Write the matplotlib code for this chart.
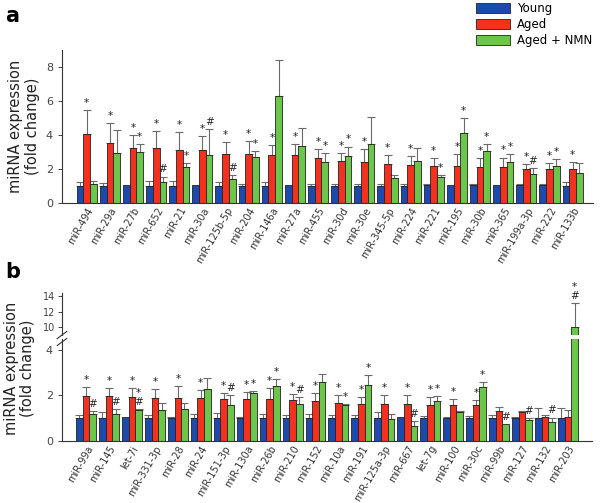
import numpy as np
import matplotlib
matplotlib.use("Agg")
import matplotlib.pyplot as plt
from matplotlib.patches import Patch
from matplotlib.lines import Line2D

# ===== data panel a =====
names_a = ["miR-494", "miR-29a", "miR-27b", "miR-652", "miR-21", "miR-30a", "miR-125b-5p",
           "miR-204", "miR-146a", "miR-27a", "miR-455", "miR-30d", "miR-30e", "miR-345-5p",
           "miR-224", "miR-221", "miR-195", "miR-30b", "miR-365", "miR-199a-3p", "miR-222", "miR-133b"]
young_a = [1.0, 1.0, 1.05, 1.0, 1.0, 1.05, 1.0, 1.0, 1.0, 1.05, 1.0, 1.0, 1.0, 1.0, 1.0,
           1.04, 1.02, 1.04, 1.04, 1.04, 1.04, 1.0]
young_a_top = [1.24, 1.14, 0, 1.3, 1.28, 0, 1.2, 1.1, 1.2, 0, 1.1, 1.1, 1.1, 1.1, 1.1,
               1.1, 0, 1.1, 0, 1.08, 1.08, 1.2]
aged_a = [4.06, 3.54, 3.25, 3.25, 3.13, 3.13, 2.89, 2.87, 2.81, 2.81, 2.64, 2.48, 2.42, 2.3,
          2.2, 2.17, 2.17, 2.1, 2.09, 1.99, 1.97, 1.97]
aged_a_top = [5.47, 4.67, 4.0, 4.23, 4.17, 3.94, 3.58, 3.64, 3.4, 3.44, 3.17, 2.91, 3.15, 2.83,
              2.76, 2.62, 2.86, 2.62, 2.66, 2.3, 2.32, 2.38]
nmn_a = [1.1, 2.93, 2.97, 1.22, 2.13, 2.81, 1.38, 2.72, 6.3, 3.33, 2.4, 2.76, 3.44, 1.46,
         2.48, 1.5, 4.11, 3.03, 2.42, 1.69, 2.15, 1.75]
nmn_a_top = [1.3, 4.29, 3.48, 1.54, 2.32, 4.35, 1.61, 3.03, 8.43, 4.4, 2.91, 3.31, 5.04, 1.63,
             3.23, 1.63, 5.0, 3.48, 2.89, 2.03, 2.6, 2.34]
sig_aged_a = ["*"] * 22
sig_nmn_a = ["", "", "*", "#", "*", "#", "#", "*", "", "", "*", "*", "", "", "", "*", "*", "*",
             "*", "#", "*", ""]

# ===== data panel b =====
names_b = ["miR-99a", "miR-145", "let-7i", "miR-331-3p", "miR-28", "miR-24", "miR-151-3p",
           "miR-130a", "miR-26b", "miR-210", "miR-152", "miR-10a", "miR-191", "miR-125a-3p",
           "miR-667", "let-7g", "miR-100", "miR-30c", "miR-99b", "miR-127", "miR-132", "miR-203"]
young_b = [1.01, 1.01, 1.04, 1.01, 1.01, 1.01, 1.01, 1.03, 1.03, 1.03, 1.03, 1.03, 1.03, 1.03,
           1.05, 1.0, 1.03, 1.0, 1.03, 1.03, 1.03, 1.03]
young_b_top = [1.14, 1.29, 0, 1.14, 1.04, 1.19, 1.25, 1.05, 1.17, 1.13, 1.17, 1.12, 1.14, 1.29,
               0, 1.1, 1.05, 1.08, 1.15, 1.05, 1.44, 1.44]
aged_b = [1.99, 1.99, 1.95, 1.9, 1.9, 1.88, 1.86, 1.86, 1.83, 1.79, 1.74, 1.67, 1.64, 1.64,
          1.63, 1.6, 1.56, 1.56, 1.31, 1.28, 1.06, 1.04]
aged_b_top = [2.39, 2.31, 2.33, 2.27, 2.42, 2.23, 2.12, 2.17, 2.32, 2.07, 2.12, 2.02, 1.95, 2.02,
              2.02, 1.94, 1.84, 1.81, 1.51, 1.32, 1.12, 1.34]
nmn_b = [1.2, 1.19, 1.36, 1.35, 1.41, 2.27, 1.6, 2.1, 2.42, 1.61, 2.59, 1.6, 2.48, 0.97, 0.67,
         1.76, 1.26, 2.38, 0.74, 0.91, 0.85, 10.0]
nmn_b_top = [1.32, 1.41, 1.39, 1.66, 1.68, 2.77, 2.02, 2.2, 2.73, 1.92, 2.93, 1.64, 2.9, 1.19,
             0.88, 1.97, 1.31, 2.6, 0, 1.0, 1.03, 13.1]
sig_aged_b = ["*"] * 18 + ["", "", "", ""]
sig_nmn_b = ["#", "#", "*\n#", "", "", "", "#", "*", "*", "#", "", "*", "*", "", "#", "*", "",
             "*", "#", "#", "#", "*\n#"]

groups = ["Young", "Aged", "Aged + NMN"]
colors = ["#1d4aae", "#f5301e", "#6cc64a"]
W = 0.29
err_col = "#6a6a6a"


def style_axis(ax):
    for s in ["top", "right"]:
        ax.spines[s].set_visible(False)
    for s in ["left", "bottom"]:
        ax.spines[s].set_color("#333333")
        ax.spines[s].set_linewidth(0.8)
    ax.tick_params(axis="y", labelsize=8, colors="#444444", length=3, width=0.7)
    ax.tick_params(axis="x", length=0, pad=2)


def draw_bars(ax, vals, tops, sigs, k):
    x = np.arange(len(vals)) + (k - 1) * W
    ax.bar(x, vals, W, color=colors[k], edgecolor="#222222", linewidth=0.6, zorder=2)
    v = np.array(vals)
    t = np.array(tops)
    m = t > v
    ax.errorbar(x[m], v[m], yerr=[np.zeros(m.sum()), (t - v)[m]], fmt="none",
                ecolor=err_col, elinewidth=0.8, capsize=2.6, capthick=0.8, zorder=1)
    if sigs is not None:
        for xi, vi, ti, s in zip(x, v, t, sigs):
            if s:
                ax.annotate(s, (xi, max(vi, ti)), xytext=(0, 1.5), textcoords="offset points",
                            ha="center", va="bottom", fontsize=7.5, color="#222222",
                            linespacing=0.9, annotation_clip=False)


fig = plt.figure(figsize=(6, 5.03), dpi=100)

# ===== panel a =====
ax_a = fig.add_axes([0.1033, 0.597, 0.885, 0.3036])
style_axis(ax_a)
for k, (vals, tops, sigs) in enumerate([(young_a, young_a_top, None),
                                        (aged_a, aged_a_top, sig_aged_a),
                                        (nmn_a, nmn_a_top, sig_nmn_a)]):
    draw_bars(ax_a, vals, tops, sigs, k)
ax_a.set_ylim(0, 9.0)
ax_a.set_yticks([0, 2, 4, 6, 8])
ax_a.set_xlim(-1.07, 21.88)
ax_a.set_xticks(np.arange(len(names_a)))
ax_a.set_xticklabels(names_a, rotation=60, ha="right", rotation_mode="anchor",
                     fontsize=7, color="#333333")

# ===== panel b (broken axis) =====
ax_bl = fig.add_axes([0.1033, 0.1233, 0.8833, 0.2022])
ax_bu = fig.add_axes([0.1033, 0.334, 0.8833, 0.0835])
style_axis(ax_bl)
style_axis(ax_bu)
ax_bu.spines["bottom"].set_visible(False)
for ax in (ax_bl, ax_bu):
    for k, (vals, tops, sigs) in enumerate([(young_b, young_b_top, None),
                                            (aged_b, aged_b_top, sig_aged_b),
                                            (nmn_b, nmn_b_top, sig_nmn_b)]):
        if ax is ax_bl:
            tops_draw = [t if v < 4.5 else 0 for v, t in zip(vals, tops)]
            sig_draw = None if sigs is None else [s if v < 4.5 else "" for v, s in zip(vals, sigs)]
        else:
            tops_draw = [t if v > 4.5 else 0 for v, t in zip(vals, tops)]
            sig_draw = None if sigs is None else [s if v > 4.5 else "" for v, s in zip(vals, sigs)]
        draw_bars(ax, vals, tops_draw, sig_draw, k)
    ax.set_xlim(-1.05, 22.05)
ax_bl.set_ylim(0, 4.47)
ax_bl.set_yticks([0, 2, 4])
ax_bu.set_ylim(8.9, 14.45)
ax_bu.set_yticks([10, 12, 14])
ax_bu.tick_params(axis="y", labelsize=7, pad=2)
ax_bu.set_xticks([])
ax_bl.set_xticks(np.arange(len(names_b)))
ax_bl.set_xticklabels(names_b, rotation=60, ha="right", rotation_mode="anchor",
                      fontsize=7, color="#333333")

# break marks on the left spine
x0 = 62 / 600
for yc in [335, 342]:
    yf = 1 - yc / 503
    fig.add_artist(Line2D([x0 - 0.008, x0 + 0.008], [yf - 0.007, yf + 0.007],
                          color="#333333", lw=0.8))

# y labels and panel letters
for xc, yc in [(0.04, 126), (0.032, 368)]:
    fig.text(xc, 1 - yc / 503, "miRNA expression\n(fold change)", rotation=90,
             ha="center", va="center", fontsize=10.5, color="#222222", linespacing=1.1)
fig.text(0.008, 1 - 16 / 503, "a", fontsize=15, fontweight="bold", va="center")
fig.text(0.008, 1 - 272 / 503, "b", fontsize=15, fontweight="bold", va="center")

# legend
handles = [Patch(facecolor=c, edgecolor="#222222", linewidth=0.6) for c in colors]
fig.legend(handles, groups, loc="upper left", bbox_to_anchor=(0.785, 1.005), frameon=False,
           fontsize=8.5, handlelength=2.9, handleheight=0.9, labelspacing=0.25,
           handletextpad=0.6, borderaxespad=0)

fig.savefig("out.png", dpi=100)
